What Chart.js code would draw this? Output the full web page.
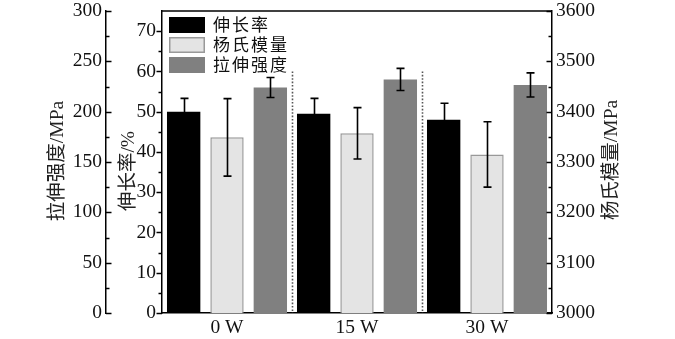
<!DOCTYPE html>
<html>
<head>
<meta charset="utf-8">
<script src="https://cdn.jsdelivr.net/npm/chart.js@4.4.0/dist/chart.umd.min.js"></script>
<style>
  html, body { margin: 0; padding: 0; background: #fff; }
  #wrap { width: 675px; height: 339px; }
</style>
</head>
<body>
<div id="wrap"><canvas id="chart"></canvas></div>
<script>
// Categories and series
const categories = ["0 W", "15 W", "30 W"]
const seriesNames = ["伸长率", "杨氏模量", "拉伸强度"]

const elongation = [50.0, 49.5, 48.0]
const elongationErr = [3.3, 3.8, 4.1]
const modulus = [3349, 3357, 3315]
const modulusErr = [77, 51, 65]
const strength = [224, 232, 226.5]
const strengthErr = [10, 11, 12]

// Tick labels
const elongationTicks = [0, 10, 20, 30, 40, 50, 60, 70]
const strengthTicks = [0, 50, 100, 150, 200, 250, 300]
const modulusTicks = [3000, 3100, 3200, 3300, 3400, 3500, 3600]

const axisTitles = { yS: "拉伸强度/MPa", yE: "伸长率/%", yM: "杨氏模量/MPa" }

const FONT = "'Liberation Serif', 'Noto Sans CJK SC', serif"
const xFont = { family: FONT, size: 19.5 }
// small lineHeight keeps chart.js from padding the plot top for the top labels
const yFont = { family: FONT, size: 19.5, lineHeight: 0.5 }
const plainLabel = (v) => String(v)

// minor ticks sit halfway between labelled ones
function withMinor(ticks) {
  const out = []
  ticks.forEach((v, i) => {
    out.push({ v: v, major: true })
    if (i < ticks.length - 1) out.push({ v: (v + ticks[i + 1]) / 2, major: false })
  })
  return out
}

// Axis ticks, titles, frame top, separators, error bars and legend
const decorPlugin = {
  id: "decor",
  afterDatasetsDraw(chart) {
    const ctx = chart.ctx
    const area = chart.chartArea
    const xs = chart.scales.x

    // dotted separators between groups
    const yE = chart.scales.yE
    const step = xs.getPixelForValue(1) - xs.getPixelForValue(0)
    ctx.save()
    ctx.strokeStyle = "#555"
    ctx.lineWidth = 1.6
    ctx.setLineDash([1.6, 1.8])
    for (let i = 0; i < categories.length - 1; i++) {
      const x = Math.round(xs.getPixelForValue(i) + step / 2) + 0.5
      ctx.beginPath()
      ctx.moveTo(x, yE.getPixelForValue(60))
      ctx.lineTo(x, area.bottom)
      ctx.stroke()
    }
    ctx.restore()

    // error bars
    const errs = [elongationErr, modulusErr, strengthErr]
    const vals = [elongation, modulus, strength]
    ctx.save()
    ctx.strokeStyle = "#000"
    ctx.lineWidth = 1.6
    chart.data.datasets.forEach((ds, di) => {
      const meta = chart.getDatasetMeta(di)
      const sc = chart.scales[ds.yAxisID]
      meta.data.forEach((bar, i) => {
        const top = sc.getPixelForValue(vals[di][i] + errs[di][i])
        const bot = sc.getPixelForValue(vals[di][i] - errs[di][i])
        const x = Math.round(bar.x) + 0.5
        ctx.beginPath()
        ctx.moveTo(x, top)
        ctx.lineTo(x, bot)
        ctx.moveTo(x - 4, top)
        ctx.lineTo(x + 4, top)
        ctx.moveTo(x - 4, bot)
        ctx.lineTo(x + 4, bot)
        ctx.stroke()
      })
    })
    ctx.restore()
  },
  afterDraw(chart) {
    const ctx = chart.ctx
    const area = chart.chartArea
    const { yS, yE, yM } = chart.scales

    ctx.save()
    ctx.strokeStyle = "#000"
    ctx.lineWidth = 1.5

    // top frame line
    ctx.beginPath()
    ctx.moveTo(area.left, area.top)
    ctx.lineTo(area.right, area.top)
    ctx.stroke()

    // tick marks: [scale, ticks, x of axis line, direction]
    const sets = [
      [yS, withMinor(strengthTicks), yS.right, 1],
      [yE, withMinor(elongationTicks), yE.right, -1],
      [yM, withMinor(modulusTicks), yM.left, -1],
    ]
    sets.forEach(([sc, ticks, x0, dir]) => {
      ticks.forEach((t) => {
        const y = Math.round(sc.getPixelForValue(t.v)) + 0.5
        const len = t.major ? 5.5 : 3.5
        ctx.beginPath()
        ctx.moveTo(x0, y)
        ctx.lineTo(x0 + dir * len, y)
        ctx.stroke()
      })
    })
    ctx.restore()

    // axis titles, all read bottom to top
    ctx.save()
    ctx.fillStyle = "#222"
    ctx.font = "19.5px " + FONT
    ctx.textAlign = "center"
    ctx.textBaseline = "middle"
    const titles = [
      [axisTitles.yS, yS.right - 48, 161],
      [axisTitles.yE, yE.right - 33, 171],
      [axisTitles.yM, yM.left + 60, 160],
    ]
    titles.forEach(([txt, x, y]) => {
      ctx.save()
      ctx.translate(x, y)
      ctx.rotate(-Math.PI / 2)
      ctx.fillText(txt, 0, 0)
      ctx.restore()
    })
    ctx.restore()

    // legend in the top left of the plot
    ctx.save()
    ctx.font = "17px 'Noto Sans CJK SC', sans-serif"
    ctx.letterSpacing = "2px"
    ctx.textBaseline = "middle"
    chart.data.datasets.forEach((ds, i) => {
      const bx = area.left + 7
      const by = area.top + 6 + i * 20
      ctx.fillStyle = ds.backgroundColor
      ctx.fillRect(bx, by, 36, 16)
      if (ds.borderWidth) {
        ctx.strokeStyle = ds.borderColor
        ctx.lineWidth = 1.5
        ctx.strokeRect(bx + 0.75, by + 0.75, 34.5, 14.5)
      }
      ctx.fillStyle = "#111"
      ctx.fillText(seriesNames[i], bx + 44, by + 8)
    })
    ctx.restore()
  },
}

const ctx = document.getElementById("chart").getContext("2d")

new Chart(ctx, {
  type: "bar",
  data: {
    labels: categories,
    datasets: [
      {
        label: seriesNames[0],
        data: elongation,
        yAxisID: "yE",
        backgroundColor: "#000",
        borderWidth: 0,
      },
      {
        label: seriesNames[1],
        data: modulus,
        yAxisID: "yM",
        backgroundColor: "#e4e4e4",
        borderColor: "#999",
        borderWidth: 1.5,
      },
      {
        label: seriesNames[2],
        data: strength,
        yAxisID: "yS",
        backgroundColor: "#808080",
        borderWidth: 0,
      },
    ],
  },
  options: {
    responsive: true,
    maintainAspectRatio: false,
    animation: false,
    devicePixelRatio: 1,
    categoryPercentage: 1.0,
    barPercentage: 0.77,
    layout: { padding: { top: 11, left: 0, right: 0, bottom: 0 } },
    plugins: {
      legend: { display: false },
      tooltip: { enabled: false },
    },
    scales: {
      x: {
        grid: { display: false, drawTicks: false },
        border: { display: true, color: "#000", width: 1.5 },
        ticks: { font: xFont, color: "#111", padding: 3 },
        afterFit: (s) => { s.height = 26 },
      },
      yS: {
        position: "left",
        weight: 2,
        min: 0,
        max: 300,
        afterBuildTicks: (s) => { s.ticks = strengthTicks.map((v) => ({ value: v })) },
        grid: { display: false, drawTicks: false },
        border: { display: true, color: "#000", width: 1.5 },
        ticks: { font: yFont, color: "#111", padding: 4, callback: plainLabel },
        afterFit: (s) => { s.width = 106 },
      },
      yE: {
        position: "left",
        weight: 1,
        min: 0,
        max: 75,
        afterBuildTicks: (s) => { s.ticks = elongationTicks.map((v) => ({ value: v })) },
        grid: { display: false, drawTicks: false },
        border: { display: true, color: "#000", width: 1.5 },
        ticks: { font: yFont, color: "#111", padding: 6, callback: plainLabel },
        afterFit: (s) => { s.width = 56 },
      },
      yM: {
        position: "right",
        min: 3000,
        max: 3600,
        afterBuildTicks: (s) => { s.ticks = modulusTicks.map((v) => ({ value: v })) },
        grid: { display: false, drawTicks: false },
        border: { display: true, color: "#000", width: 1.5 },
        ticks: { font: yFont, color: "#111", padding: 4, callback: plainLabel },
        afterFit: (s) => { s.width = 123 },
      },
    },
  },
  plugins: [decorPlugin],
})
</script>
</body>
</html>
